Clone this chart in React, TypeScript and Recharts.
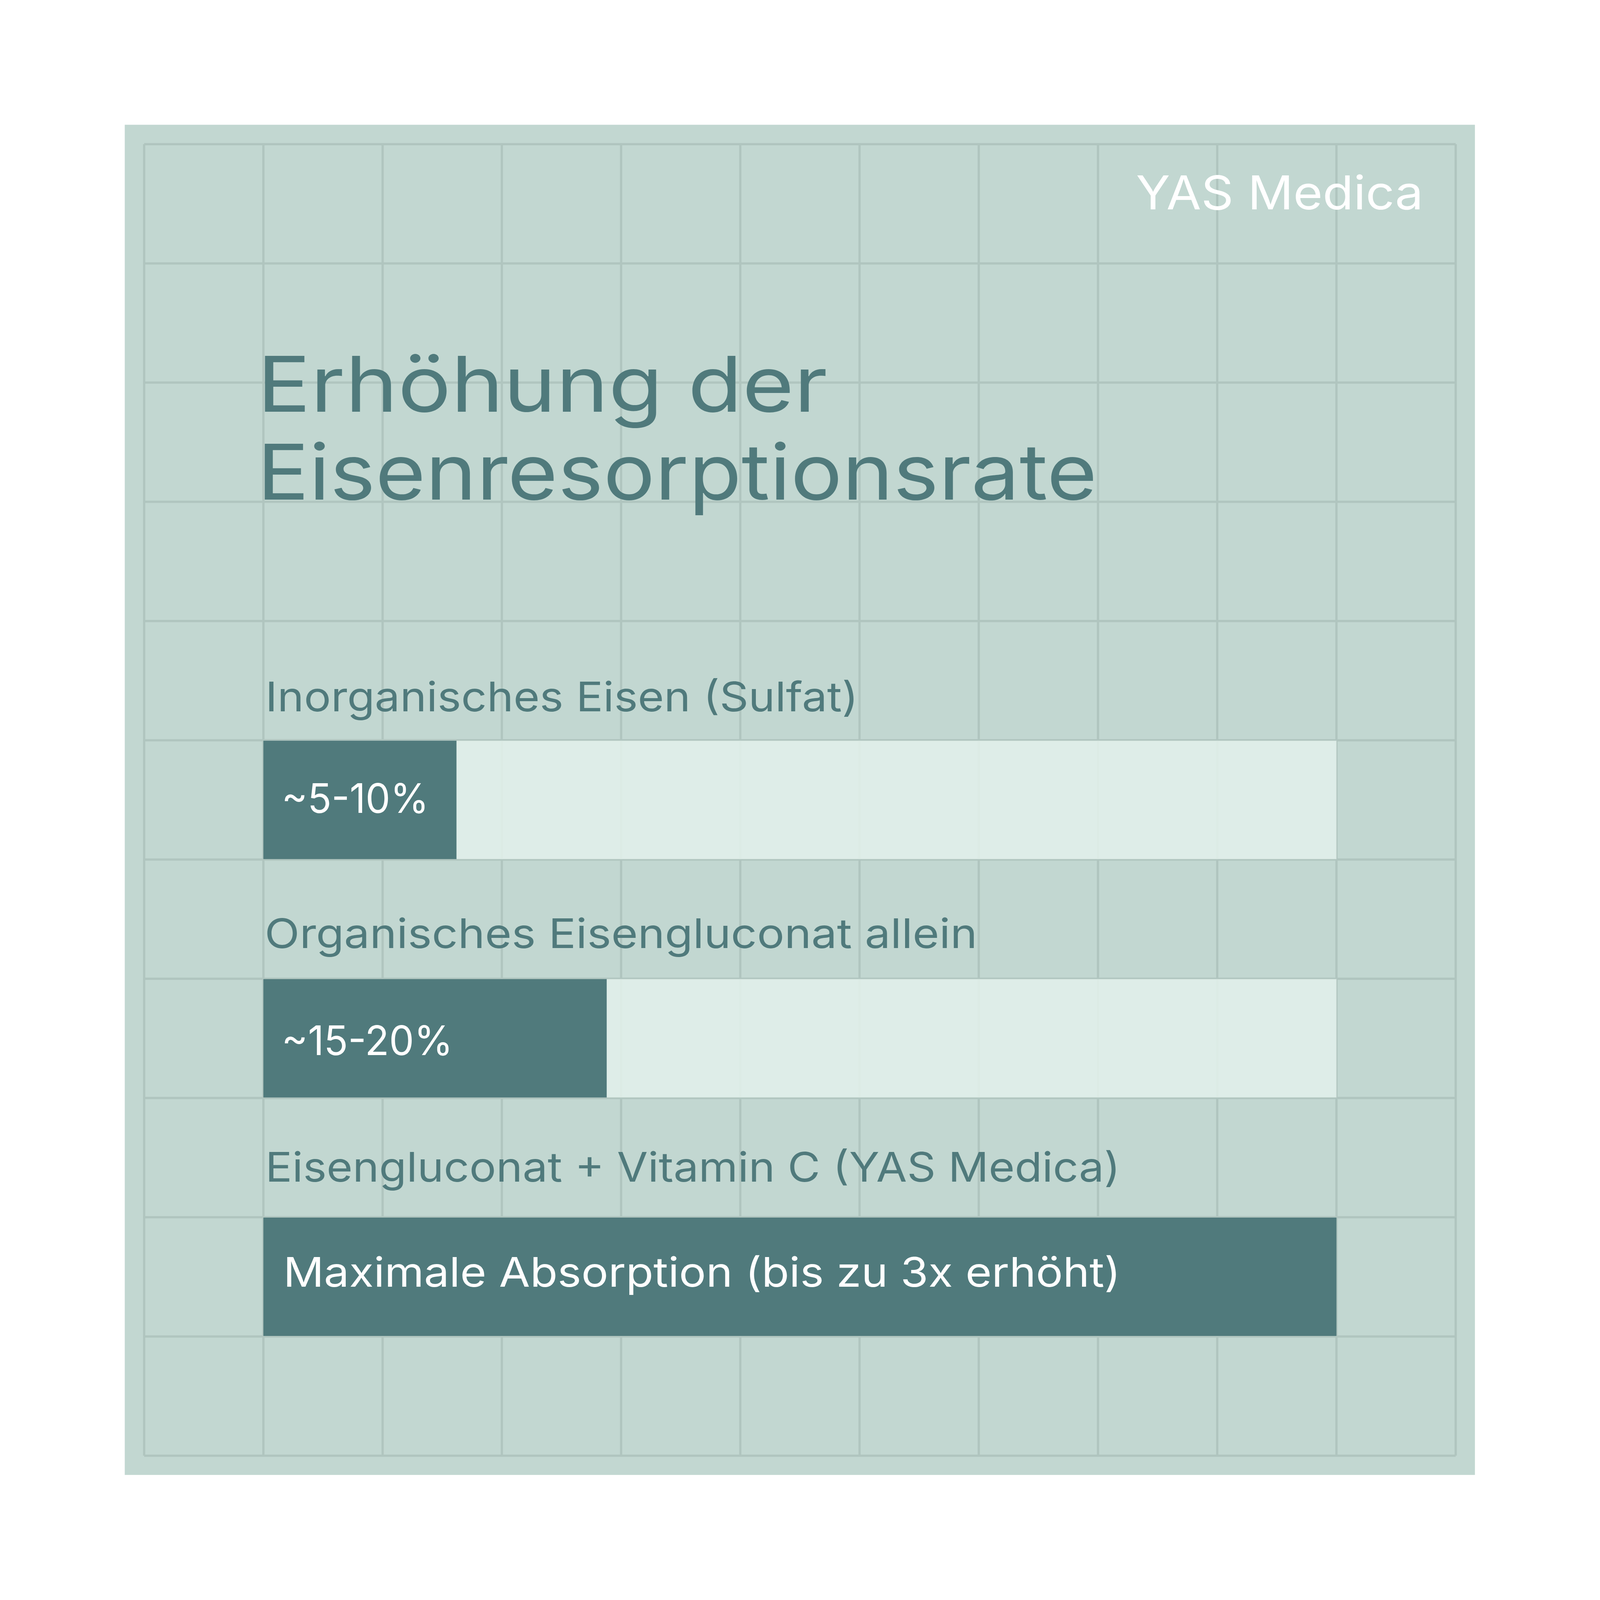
import { Bar, BarChart, CartesianGrid, LabelList, XAxis, YAxis } from "recharts";

const categories = [
  "Inorganisches Eisen (Sulfat)",
  "Organisches Eisengluconat allein",
  "Eisengluconat + Vitamin C (YAS Medica)",
];
const barLabels = ["~5-10%", "~15-20%", "Maximale Absorption (bis zu 3x erhöht)"];
// bar length, share of the full track
const absorption = [18, 32, 100];
const remainder = [82, 68, 0];
const titleLines = ["Erhöhung der", "Eisenresorptionsrate"];
const brand = "YAS Medica";

const data = categories.map((name, i) => ({
  name,
  label: barLabels[i],
  absorption: absorption[i],
  remainder: remainder[i],
}));

const SIZE = 4989;
// the photographed page stops at 4096px, so the whole drawing is scaled into it
const SHOT = 4096;
const GRID_COLS = 11;
const CELL = 371.8;
const FONT = "Inter, sans-serif";
const DARK = "#507A7C";
const PANEL = "#C2D7D1";
const GRID = "#B0C5BF";
const TRACK = "#E1F0EA";

// one cell of empty grid either side of the track, which is 9 cells wide
const unit = 100 / 9;
const xDomain = [-unit, 10 * unit];

// text fit, the reference font is wider than the installed ones
const catDx = [6, 4, 6];
const catDy = [-276, -281, -296];
const catWidth = [1849, 2222, 2666];
const catSize = 127;
const barDx = [57, 57, 62];
const barDy = [41, 52, 31];
const barWidth = [459, 534, 2611];
const barSize = 127;

function CategoryText({ x, y, height, value, index }: any) {
  return (
    <text
      x={x + catDx[index]}
      y={y + height / 2 + catDy[index]}
      fontFamily={FONT}
      fontSize={catSize}
      fill={DARK}
      textLength={catWidth[index]}
      lengthAdjust="spacingAndGlyphs"
    >
      {value}
    </text>
  );
}

function BarText({ x, y, height, value, index }: any) {
  return (
    <text
      x={x + barDx[index]}
      y={y + height / 2 + barDy[index]}
      fontFamily={FONT}
      fontSize={barSize}
      fill="#fff"
      textLength={barWidth[index]}
      lengthAdjust="spacingAndGlyphs"
    >
      {value}
    </text>
  );
}

export default function App() {
  return (
    <div style={{ position: "absolute", left: 0, top: 0, width: SHOT, height: SHOT, overflow: "hidden", background: "#fff" }}>
      <div style={{ position: "absolute", left: 0, top: 0, width: SIZE, height: SIZE, transform: `scale(${SHOT / SIZE})`, transformOrigin: "0 0" }}>
        <div style={{ position: "absolute", left: 389, top: 389, width: 4210, height: 4210, background: PANEL }} />
        <div style={{ position: "absolute", left: 0, top: 0 }}>
          <BarChart
            width={SIZE}
            height={SIZE}
            data={data}
            layout="vertical"
            margin={{ top: 449.5, left: 449.5, right: 450, bottom: 450 }}
          >
            <CartesianGrid
              stroke={GRID}
              strokeWidth={7}
              verticalCoordinatesGenerator={({ offset }: any) =>
                Array.from({ length: GRID_COLS + 1 }, (_, i) => offset.left + (i * offset.width) / GRID_COLS)
              }
              horizontalCoordinatesGenerator={({ offset }: any) =>
                Array.from({ length: GRID_COLS + 1 }, (_, i) => offset.top + (i * offset.height) / GRID_COLS)
              }
            />
            <XAxis type="number" domain={xDomain} hide />
            <YAxis
              type="category"
              dataKey="name"
              hide
              padding={{ top: 4.5 * CELL, bottom: 0.5 * CELL }}
            />
            <Bar dataKey="absorption" stackId="track" fill={DARK} barSize={369} isAnimationActive={false}>
              <LabelList dataKey="name" content={CategoryText} />
              <LabelList dataKey="label" content={BarText} />
            </Bar>
            <Bar dataKey="remainder" stackId="track" fill={TRACK} fillOpacity={0.88} barSize={369} isAnimationActive={false} />
            <text x={802} y={1284} fontFamily={FONT} fontSize={240} fill={DARK} textLength={1778} lengthAdjust="spacingAndGlyphs">
              {titleLines[0]}
            </text>
            <text x={802} y={1558} fontFamily={FONT} fontSize={240} fill={DARK} textLength={2619} lengthAdjust="spacingAndGlyphs">
              {titleLines[1]}
            </text>
            <text x={3542} y={653} fontFamily={FONT} fontSize={146} fill="#fff" textLength={896} lengthAdjust="spacingAndGlyphs">
              {brand}
            </text>
          </BarChart>
        </div>
      </div>
    </div>
  );
}
